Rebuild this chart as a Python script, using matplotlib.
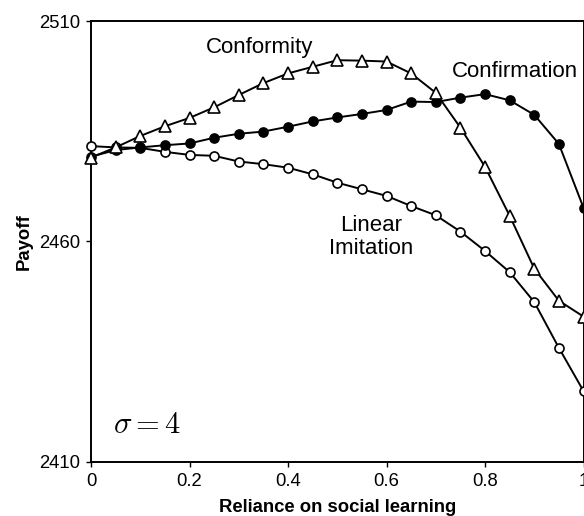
import matplotlib
matplotlib.use("Agg")
import matplotlib.pyplot as plt

plt.rcParams['font.family'] = ['Liberation Sans', 'DejaVu Sans']
plt.rcParams['mathtext.fontset'] = 'cm'

x = [0, 0.05, 0.1, 0.15, 0.2, 0.25, 0.3, 0.35, 0.4, 0.45, 0.5,
     0.55, 0.6, 0.65, 0.7, 0.75, 0.8, 0.85, 0.9, 0.95, 1.0]
conformity = [2479.0, 2481.3, 2483.9, 2486.1, 2488.0, 2490.4, 2493.2, 2495.9, 2498.1, 2499.6, 2501.1,
              2501.0, 2500.8, 2498.1, 2493.7, 2485.8, 2476.9, 2465.8, 2453.8, 2446.5, 2442.9]
confirmation = [2479.2, 2480.7, 2481.3, 2481.8, 2482.2, 2483.5, 2484.4, 2484.9, 2486.0, 2487.2, 2488.1,
                2488.9, 2489.8, 2491.7, 2491.6, 2492.6, 2493.4, 2492.0, 2488.7, 2482.1, 2467.6]
linear = [2481.6, 2481.3, 2481.2, 2480.3, 2479.6, 2479.4, 2478.1, 2477.5, 2476.7, 2475.2, 2473.3,
          2471.8, 2470.3, 2468.0, 2465.9, 2462.2, 2457.8, 2453.0, 2446.2, 2435.8, 2426.0]

xticks = [0, 0.2, 0.4, 0.6, 0.8, 1]
xticklabels = ["0", "0.2", "0.4", "0.6", "0.8", "1"]
yticks = [2410, 2460, 2510]

W, H = 584, 516
fig = plt.figure(figsize=(W / 100, H / 100), dpi=100)
ax = fig.add_axes([91 / W, 1 - 461.5 / H, (583.5 - 91) / W, (461.5 - 21) / H])

lw = 1.4
ax.plot(x, linear, '-o', color='black', lw=lw, markerfacecolor='white',
        markeredgecolor='black', markersize=6.5, markeredgewidth=1.2, clip_on=False, zorder=3)
ax.plot(x, confirmation, '-o', color='black', lw=lw, markerfacecolor='black',
        markeredgecolor='black', markersize=6.5, markeredgewidth=1.2, clip_on=False, zorder=4)
ax.plot(x, conformity, '-^', color='black', lw=lw, markerfacecolor='white',
        markeredgecolor='black', markersize=8, markeredgewidth=1.2, clip_on=False, zorder=5)

ax.set_xlim(0, 1)
ax.set_ylim(2410, 2510)
ax.set_xticks(xticks)
ax.set_xticklabels(xticklabels)
ax.set_yticks(yticks)
ax.tick_params(direction='out', length=3.6, width=1, labelsize=13.3)
ax.tick_params(axis='y', pad=4)
ax.tick_params(axis='x', pad=5)
for s in ['left', 'bottom', 'right', 'top']:
    ax.spines[s].set_linewidth(1.4)

ax.set_xlabel('Reliance on social learning', fontsize=13.3, fontweight='bold', labelpad=6)
ax.set_ylabel('Payoff', fontsize=13.3, fontweight='bold', labelpad=5)

ax.text(0.343, 2503.9, 'Conformity', fontsize=16, ha='center', va='center')
ax.text(0.861, 2498.5, 'Confirmation', fontsize=16, ha='center', va='center')
ax.text(0.568, 2461.0, 'Linear\nImitation', fontsize=16, ha='center', va='center', linespacing=1.12)
ax.text(0.045, 2418.3, r'$\sigma = 4$', fontsize=22, ha='left', va='center')

fig.savefig('out.png', dpi=100)
